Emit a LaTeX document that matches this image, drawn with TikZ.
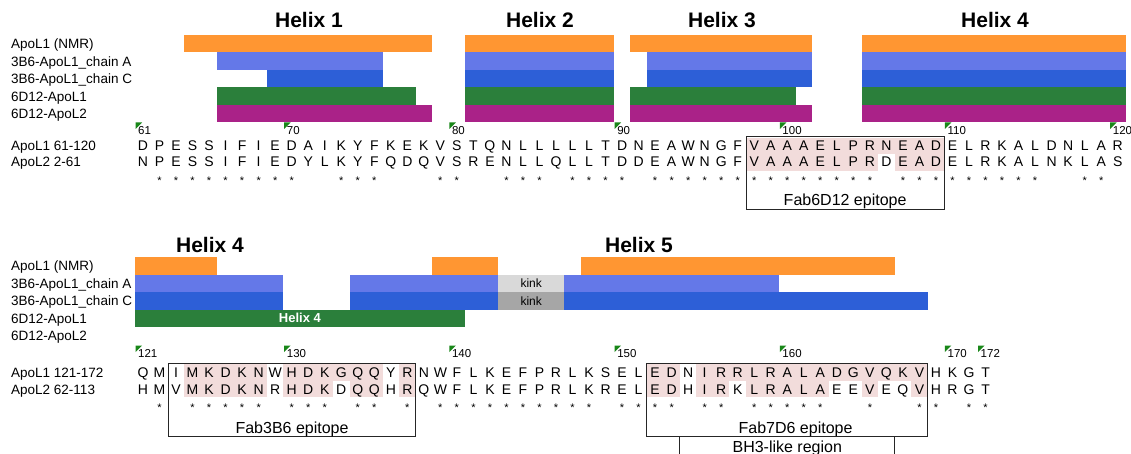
\documentclass[tikz,border=0pt]{standalone}
\usepackage{fontspec}
\setmainfont{Liberation Sans}
\definecolor{nmrorange}{RGB}{255,150,50}
\definecolor{chainA}{RGB}{100,120,232}
\definecolor{chainC}{RGB}{45,95,215}
\definecolor{fabgreen}{RGB}{43,127,59}
\definecolor{fabmagenta}{RGB}{170,34,136}
\definecolor{kinkA}{RGB}{217,217,217}
\definecolor{kinkC}{RGB}{166,166,166}
\definecolor{epipink}{RGB}{242,220,219}
\definecolor{tickgreen}{RGB}{25,135,25}

% residue #2 counted from base residue #1 -> x position of its centre
\newcommand\rx[2]{143+16.52*(#2-#1)}
% helix segment: base, top y, first residue, last residue, colour
\newcommand\trk[5]{\fill[#5] ({134.74+16.52*(#3-#1)},{#2}) rectangle ({151.26+16.52*(#4-#1)},{#2+17.5});}
% shaded run of residues: base, top y, first, last
\newcommand\epishade[4]{\fill[epipink] ({134.74+16.52*(#3-#1)},{#2}) rectangle ({151.26+16.52*(#4-#1)},{#2+16.5});}

\tikzset{
  rowlab/.style={anchor=base west, inner sep=0, font=\fontsize{13.5}{15}\selectfont},
  res/.style={anchor=base, inner sep=0, font=\fontsize{14}{15}\selectfont},
  cons/.style={anchor=base, inner sep=0, font=\fontsize{11}{12}\selectfont},
  num/.style={anchor=base west, inner sep=0, font=\fontsize{11.5}{12}\selectfont},
  helixtitle/.style={anchor=base, inner sep=0, font=\fontsize{21}{24}\selectfont\bfseries},
  epilab/.style={anchor=base, inner sep=0, font=\fontsize{16}{18}\selectfont},
  kinklab/.style={inner sep=0, font=\fontsize{12}{13}\selectfont},
  boxline/.style={draw=black!85, line width=0.9pt},
}

\begin{document}
\begin{tikzpicture}[x=1pt,y=-1pt]
\useasboundingbox (0,0) rectangle (1131,454);

% ---------- helix titles ----------
\node[helixtitle] (h1) at (309,28) {Helix 1};
\node[helixtitle] (h2) at (540,28) {Helix 2};
\node[helixtitle] (h3) at (722,28) {Helix 3};
\node[helixtitle] (h4) at (995,28) {Helix 4};
\node[helixtitle] (h4b) at (210,252) {Helix 4};
\node[helixtitle] (h5) at (639,252) {Helix 5};

% ---------- track labels ----------
\foreach \t/\y [count=\k] in {ApoL1 (NMR)/48.7, 3B6-ApoL1\_chain A/66.2, 3B6-ApoL1\_chain C/83.7, 6D12-ApoL1/101.2, 6D12-ApoL2/118.7}
  \node[rowlab] (ta\k) at (11,\y) {\t};
\foreach \t/\y [count=\k] in {ApoL1 (NMR)/270.7, 3B6-ApoL1\_chain A/288.2, 3B6-ApoL1\_chain C/305.7, 6D12-ApoL1/323.2, 6D12-ApoL2/340.7}
  \node[rowlab] (tb\k) at (11,\y) {\t};

% ---------- helix segments, residues 61-120 ----------
\trk{61}{35}{64}{78}{nmrorange}
\trk{61}{35}{81}{89}{nmrorange}
\trk{61}{35}{91}{101}{nmrorange}
\trk{61}{35}{105}{120}{nmrorange}
\trk{61}{52.5}{66}{75}{chainA}
\trk{61}{52.5}{81}{89}{chainA}
\trk{61}{52.5}{92}{101}{chainA}
\trk{61}{52.5}{105}{120}{chainA}
\trk{61}{70}{69}{75}{chainC}
\trk{61}{70}{81}{89}{chainC}
\trk{61}{70}{92}{101}{chainC}
\trk{61}{70}{105}{120}{chainC}
\trk{61}{87.5}{66}{77}{fabgreen}
\trk{61}{87.5}{81}{89}{fabgreen}
\trk{61}{87.5}{91}{100}{fabgreen}
\trk{61}{87.5}{105}{120}{fabgreen}
\trk{61}{105}{66}{78}{fabmagenta}
\trk{61}{105}{81}{89}{fabmagenta}
\trk{61}{105}{91}{101}{fabmagenta}
\trk{61}{105}{105}{120}{fabmagenta}

% ---------- helix segments, residues 121-172 ----------
\trk{121}{257}{121}{125}{nmrorange}
\trk{121}{257}{139}{142}{nmrorange}
\trk{121}{257}{148}{166}{nmrorange}
\trk{121}{274.5}{121}{129}{chainA}
\trk{121}{274.5}{134}{142}{chainA}
\trk{121}{274.5}{143}{146}{kinkA}
\trk{121}{274.5}{147}{159}{chainA}
\trk{121}{292}{121}{129}{chainC}
\trk{121}{292}{134}{142}{chainC}
\trk{121}{292}{143}{146}{kinkC}
\trk{121}{292}{147}{168}{chainC}
\trk{121}{309.5}{121}{140}{fabgreen}
\node[kinklab] (kA) at ({\rx{121}{144.5}},283.25) {kink};
\node[kinklab] (kC) at ({\rx{121}{144.5}},300.75) {kink};
\node[kinklab, text=white, font=\fontsize{13}{14}\selectfont\bfseries] (g4) at ({\rx{121}{130.5}},318.25) {Helix 4};

% ---------- epitope shading ----------
\epishade{61}{138}{98}{109}
\epishade{61}{154.5}{98}{105}
\epishade{61}{154.5}{107}{109}
\epishade{121}{364}{124}{128}
\epishade{121}{364}{130}{135}
\epishade{121}{364}{137}{137}
\epishade{121}{380.5}{124}{128}
\epishade{121}{380.5}{130}{132}
\epishade{121}{380.5}{134}{135}
\epishade{121}{380.5}{137}{137}
\epishade{121}{364}{152}{153}
\epishade{121}{364}{155}{168}
\epishade{121}{380.5}{152}{153}
\epishade{121}{380.5}{155}{156}
\epishade{121}{380.5}{158}{162}
\epishade{121}{380.5}{165}{165}
\epishade{121}{380.5}{168}{168}

% ---------- position markers ----------
\foreach \n in {61,70,80,90,100,110,120} {
  \fill[tickgreen] ({\rx{61}{\n}-7.5},122.5) -- ++(6.5,0) -- ++(-6.5,6.5) -- cycle;
  \node[num] (n\n) at ({\rx{61}{\n}-5},134.5) {\n};
}
\foreach \n in {121,130,140,150,160,170,172} {
  \fill[tickgreen] ({\rx{121}{\n}-7.5},345.5) -- ++(6.5,0) -- ++(-6.5,6.5) -- cycle;
  \node[num] (n\n) at ({\rx{121}{\n}-5},357.5) {\n};
}

% ---------- sequences 61-120 ----------
\node[rowlab] (l1) at (11,151) {ApoL1 61-120};
\node[rowlab] (l2) at (11,167) {ApoL2 2-61};
\foreach \a/\b [count=\i from 0] in {
  D/N,P/P,E/E,S/S,S/S,I/I,F/F,I/I,E/E,D/D,
  A/Y,I/L,K/K,Y/Y,F/F,K/Q,E/D,K/Q,V/V,S/S,
  T/R,Q/E,N/N,L/L,L/L,L/Q,L/L,L/L,T/T,D/D,
  N/D,E/E,A/A,W/W,N/N,G/G,F/F,V/V,A/A,A/A,
  A/A,E/E,L/L,P/P,R/R,N/D,E/E,A/A,D/D,E/E,
  L/L,R/R,K/K,A/A,L/L,D/N,N/K,L/L,A/A,R/S} {
  \node[res] (p\i) at ({143+16.52*\i},151) {\a};
  \node[res] (q\i) at ({143+16.52*\i},167) {\b};
  \ifx\a\b \node[cons] (c\i) at ({143+16.52*\i},184.5) {*};\fi
}

% ---------- sequences 121-172 ----------
\node[rowlab] (l3) at (11,377.5) {ApoL1 121-172};
\node[rowlab] (l4) at (11,394) {ApoL2 62-113};
\foreach \a/\b [count=\i from 0] in {
  Q/H,M/M,I/V,M/M,K/K,D/D,K/K,N/N,W/R,H/H,
  D/D,K/K,G/D,Q/Q,Q/Q,Y/H,R/R,N/Q,W/W,F/F,
  L/L,K/K,E/E,F/F,P/P,R/R,L/L,K/K,S/R,E/E,
  L/L,E/E,D/D,N/H,I/I,R/R,R/K,L/L,R/R,A/A,
  L/L,A/A,D/E,G/E,V/V,Q/E,K/Q,V/V,H/H,K/R,
  G/G,T/T} {
  \node[res] (u\i) at ({143+16.52*\i},377.5) {\a};
  \node[res] (v\i) at ({143+16.52*\i},394) {\b};
  \ifx\a\b \node[cons] (d\i) at ({143+16.52*\i},411) {*};\fi
}

% ---------- epitope boxes ----------
\draw[boxline] ({134.74+16.52*37},136) rectangle ({151.26+16.52*48},209.5);
\node[epilab] (e1) at ({143+16.52*42.5},206) {Fab6D12 epitope};
\draw[boxline] (168.5,363) rectangle ({151.26+16.52*16},436.5);
\node[epilab] (e2) at ({(168.5+151.26+16.52*16)/2},433) {Fab3B6 epitope};
\draw[boxline] ({134.74+16.52*31},363) rectangle ({151.26+16.52*47},436.5);
\node[epilab] (e3) at ({143+16.52*39.5},433) {Fab7D6 epitope};
\draw[boxline] ({134.74+16.52*33},436.5) rectangle ({151.26+16.52*45},470);
\node[epilab] (e4) at ({143+16.52*39},452.5) {BH3-like region};
\end{tikzpicture}
\end{document}
